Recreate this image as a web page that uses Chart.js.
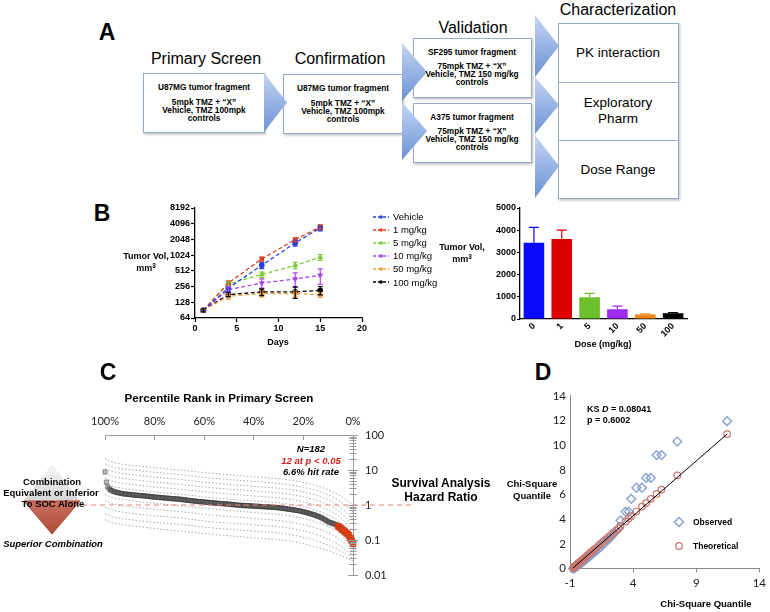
<!DOCTYPE html>
<html>
<head>
<meta charset="utf-8">
<title>Combination screen figure</title>
<script src="https://cdn.jsdelivr.net/npm/chart.js@4.4.1/dist/chart.umd.min.js"></script>
<style>
html, body { margin: 0; padding: 0; background: #fff; }
#fig { position: relative; width: 770px; height: 612px; overflow: hidden; font-family: "Liberation Sans", Arial, sans-serif; color: #000; }
#fig canvas, #fig svg { position: absolute; }
.t, .tl { position: absolute; white-space: nowrap; line-height: 1; }
.t { transform: translate(-50%, -50%); }
.tl { transform: translate(0, -50%); }
.panel { font-weight: bold; font-size: 23px; }
.stage { font-size: 16px; }
.small { font-weight: bold; font-size: 8.3px; }
.step { font-size: 13.5px; }
.axt { font-weight: bold; font-size: 9px; }
.note { font-weight: bold; font-style: italic; font-size: 9.5px; }
.sup { font-size: 6.5px; position: relative; top: -3px; }
#growthLegend { position: absolute; left: 373px; top: 210px; font-size: 9.5px; }
#growthLegend div { height: 13.1px; display: flex; align-items: center; }
#growthLegend svg { position: static; margin-right: 4px; }
</style>
</head>
<body>
<div id="fig">

  <!-- Panel A: screening cascade -->
  <svg width="770" height="205" style="left:0;top:0">
    <defs>
      <linearGradient id="triFill" x1="0" y1="0" x2="0" y2="1">
        <stop offset="0" stop-color="#c6d6f2"/>
        <stop offset="1" stop-color="#6a92d6"/>
      </linearGradient>
      <filter id="boxShadow" x="-10%" y="-10%" width="125%" height="130%">
        <feDropShadow dx="1" dy="1.5" stdDeviation="1" flood-opacity="0.25"/>
      </filter>
    </defs>
    <g fill="#fff" stroke="#94a9cc" stroke-width="1" filter="url(#boxShadow)">
      <rect x="143.5" y="73.5" width="121" height="59"/>
      <rect x="283.5" y="74.5" width="119" height="59"/>
      <rect x="413.5" y="38.5" width="118" height="59"/>
      <rect x="413.5" y="103.5" width="118" height="59"/>
      <rect x="558.5" y="23.5" width="120" height="59"/>
      <rect x="558.5" y="82.5" width="120" height="58"/>
      <rect x="558.5" y="140.5" width="120" height="58"/>
    </g>
    <g fill="url(#triFill)">
      <polygon points="264,73 287,102.5 264,132"/>
      <polygon points="402,43 427,72 402,101"/>
      <polygon points="402,102 427,131 402,160"/>
      <polygon points="535,15 559,46 535,77"/>
      <polygon points="535,77 559,105 535,134"/>
      <polygon points="535,135 559,166 535,198"/>
    </g>
  </svg>

  <div class="t panel" style="left:107px;top:32px">A</div>
  <div class="t stage" style="left:206px;top:59px">Primary Screen</div>
  <div class="t stage" style="left:340px;top:59px">Confirmation</div>
  <div class="t stage" style="left:473px;top:28px">Validation</div>
  <div class="t stage" style="left:618px;top:10px">Characterization</div>

  <div class="t small" style="left:204px;top:87px">U87MG tumor fragment</div>
  <div class="t small" style="left:204px;top:102px">5mpk TMZ + “X”</div>
  <div class="t small" style="left:204px;top:110px">Vehicle, TMZ 100mpk</div>
  <div class="t small" style="left:204px;top:118px">controls</div>

  <div class="t small" style="left:343px;top:88px">U87MG tumor fragment</div>
  <div class="t small" style="left:343px;top:103px">5mpk TMZ + “X”</div>
  <div class="t small" style="left:343px;top:111px">Vehicle, TMZ 100mpk</div>
  <div class="t small" style="left:343px;top:119px">controls</div>

  <div class="t small" style="left:472px;top:52px">SF295 tumor fragment</div>
  <div class="t small" style="left:472px;top:66px">75mpk TMZ + “X”</div>
  <div class="t small" style="left:472px;top:74px">Vehicle, TMZ 150 mg/kg</div>
  <div class="t small" style="left:472px;top:82px">controls</div>

  <div class="t small" style="left:472px;top:117px">A375 tumor fragment</div>
  <div class="t small" style="left:472px;top:131px">75mpk TMZ + “X”</div>
  <div class="t small" style="left:472px;top:139px">Vehicle, TMZ 150 mg/kg</div>
  <div class="t small" style="left:472px;top:147px">controls</div>

  <div class="t step" style="left:618px;top:53px">PK interaction</div>
  <div class="t step" style="left:618px;top:103px">Exploratory</div>
  <div class="t step" style="left:618px;top:119px">Pharm</div>
  <div class="t step" style="left:618px;top:170px">Dose Range</div>

  <!-- Panel B -->
  <canvas id="growthChart" width="260" height="160" style="left:120px;top:198px"></canvas>
  <canvas id="doseChart" width="260" height="160" style="left:440px;top:198px"></canvas>
  <div id="growthLegend"></div>
  <div class="t panel" style="left:102px;top:213px">B</div>
  <div class="t axt" style="left:146px;top:256px">Tumor Vol,</div>
  <div class="t axt" style="left:146px;top:268px">mm<span class="sup">3</span></div>
  <div class="t axt" style="left:462px;top:247px">Tumor Vol,</div>
  <div class="t axt" style="left:462px;top:259px">mm<span class="sup">3</span></div>
  <div class="t axt" style="left:278px;top:342px">Days</div>
  <div class="t axt" style="left:603px;top:344px">Dose (mg/kg)</div>

  <!-- Panel C -->
  <svg width="110" height="80" style="left:0;top:460px">
    <defs>
      <linearGradient id="greyHalf" x1="0" y1="0" x2="0" y2="1">
        <stop offset="0" stop-color="#f7f7f7"/>
        <stop offset="1" stop-color="#d6d6d6"/>
      </linearGradient>
      <linearGradient id="redHalf" x1="0" y1="0" x2="0" y2="1">
        <stop offset="0" stop-color="#c87262"/>
        <stop offset="1" stop-color="#b04a36"/>
      </linearGradient>
    </defs>
    <polygon points="52,6 80,41 24,41" fill="url(#greyHalf)" stroke="#e2e2e2" stroke-width="1"/>
    <polygon points="24,41 80,41 52,74" fill="url(#redHalf)" stroke="#a9452f" stroke-width="1"/>
  </svg>
  <canvas id="rankChart" width="520" height="222" style="left:0;top:380px"></canvas>
  <div class="t panel" style="left:108px;top:372px">C</div>
  <div class="t" style="left:219px;top:398px;font-weight:bold;font-size:11.6px">Percentile Rank in Primary Screen</div>
  <div class="t note" style="left:311px;top:449px">N=182</div>
  <div class="t note" style="left:311px;top:461px;color:#d0201a">12 at p &lt; 0.05</div>
  <div class="t note" style="left:311px;top:472px">6.6% hit rate</div>
  <div class="t" style="left:441px;top:483px;font-weight:bold;font-size:12px">Survival Analysis</div>
  <div class="t" style="left:441px;top:497px;font-weight:bold;font-size:12px">Hazard Ratio</div>
  <div class="t" style="left:52px;top:482px;font-weight:bold;font-size:9.5px">Combination</div>
  <div class="t" style="left:51px;top:493px;font-weight:bold;font-size:9.5px">Equivalent or Inferior</div>
  <div class="t" style="left:53px;top:504px;font-weight:bold;font-size:9.5px">To SOC Alone</div>
  <div class="t note" style="left:53px;top:544px">Superior Combination</div>

  <!-- Panel D -->
  <canvas id="qqChart" width="230" height="215" style="left:540px;top:385px"></canvas>
  <div class="t panel" style="left:543px;top:372px">D</div>
  <div class="tl" style="left:587px;top:409px;font-weight:bold;font-size:9px">KS <i>D</i> = 0.08041</div>
  <div class="tl" style="left:587px;top:420px;font-weight:bold;font-size:9px">p = 0.6002</div>
  <div class="t" style="left:532px;top:484px;font-weight:bold;font-size:9.5px">Chi-Square</div>
  <div class="t" style="left:532px;top:496px;font-weight:bold;font-size:9.5px">Quantile</div>
  <div class="t" style="left:706px;top:604px;font-weight:bold;font-size:9.5px">Chi-Square Quantile</div>
  <svg width="12" height="12" style="left:673px;top:516px"><polygon points="6,1.5 10.5,6 6,10.5 1.5,6" fill="none" stroke="#7f9fd3" stroke-width="1.4"/></svg>
  <svg width="12" height="12" style="left:673px;top:540px"><circle cx="6" cy="6" r="3.3" fill="none" stroke="#c9776f" stroke-width="1.2"/></svg>
  <div class="tl" style="left:693px;top:522px;font-weight:bold;font-size:8.5px">Observed</div>
  <div class="tl" style="left:693px;top:546px;font-weight:bold;font-size:8.5px">Theoretical</div>
</div>

<script>
// ---------- Panel B: tumour volume over time (log2 axis) ----------
const days = [1, 4, 8, 12, 15];
const groupNames = ['Vehicle', '1 mg/kg', '5 mg/kg', '10 mg/kg', '50 mg/kg', '100 mg/kg'];
const volVehicle = [90, 241, 654, 1755, 3400];
const volDose1 = [90, 300, 866, 2035, 3560];
const volDose5 = [90, 288, 434, 654, 933];
const volDose10 = [90, 223, 300, 357, 421];
const volDose50 = [90, 167, 187, 187, 179];
const volDose100 = [90, 180, 202, 202, 217];
const errVehicle = [6, 35, 90, 230, 420];
const errDose1 = [6, 25, 70, 170, 330];
const errDose5 = [6, 25, 50, 90, 120];
const errDose10 = [6, 30, 60, 110, 140];
const errDose50 = [6, 20, 25, 25, 20];
const errDose100 = [6, 15, 30, 50, 40];
const volTicks = [64, 128, 256, 512, 1024, 2048, 4096, 8192];
const dayTicks = [0, 5, 10, 15, 20];

// ---------- Panel B: volume at end of study by dose ----------
const doseLabels = ['0', '1', '5', '10', '50', '100'];
const doseVol = [3430, 3600, 980, 440, 210, 260];
const doseErr = [700, 400, 170, 140, 20, 30];

// ---------- Panel C: ranked hazard ratios ----------
const hazardRatio = [
    8.8, 4.5, 3.3, 2.9, 2.7, 2.55, 2.45, 2.38, 2.32, 2.27,
    2.22, 2.18, 2.14, 2.1, 2.07, 2.05, 2.03, 2.01, 1.99, 1.97,
    1.95, 1.93, 1.92, 1.9, 1.88, 1.87, 1.85, 1.84, 1.83, 1.81,
    1.8, 1.78, 1.76, 1.74, 1.72, 1.7, 1.69, 1.68, 1.66, 1.65,
    1.64, 1.62, 1.61, 1.6, 1.58, 1.57, 1.56, 1.55, 1.53, 1.52,
    1.51, 1.5, 1.49, 1.48, 1.47, 1.46, 1.44, 1.42, 1.4, 1.39,
    1.37, 1.36, 1.34, 1.33, 1.31, 1.3, 1.29, 1.27, 1.26, 1.25,
    1.24, 1.23, 1.22, 1.21, 1.2, 1.19, 1.18, 1.17, 1.16, 1.15,
    1.14, 1.13, 1.12, 1.11, 1.1, 1.1, 1.09, 1.08, 1.08, 1.07,
    1.06, 1.05, 1.04, 1.03, 1.02, 1.01, 1.0, 0.99, 0.98, 0.98,
    0.97, 0.97, 0.96, 0.96, 0.95, 0.95, 0.94, 0.94, 0.93, 0.93,
    0.92, 0.92, 0.91, 0.91, 0.9, 0.9, 0.89, 0.89, 0.88, 0.88,
    0.87, 0.87, 0.86, 0.86, 0.85, 0.85, 0.84, 0.83, 0.82, 0.81,
    0.8, 0.79, 0.78, 0.77, 0.76, 0.75, 0.74, 0.73, 0.72, 0.71,
    0.7, 0.69, 0.68, 0.66, 0.65, 0.64, 0.62, 0.61, 0.59, 0.58,
    0.56, 0.55, 0.53, 0.52, 0.5, 0.48, 0.47, 0.45, 0.43, 0.41,
    0.39, 0.37, 0.35, 0.33, 0.32, 0.31, 0.3, 0.29, 0.28, 0.27,
    0.25, 0.235, 0.22, 0.2, 0.19, 0.175, 0.16, 0.15, 0.135, 0.114, 0.095, 0.077
];
const hitCount = 12;
const rankTickPos = [1, 37.2, 73.4, 109.6, 145.8, 182];
const rankTickLabels = ['100%', '80%', '60%', '40%', '20%', '0%'];
const hrTickLabels = ['0.01', '0.1', '1', '10', '100'];
// confidence streaks around the ranked curve
const bandRanks = [1, 8, 30, 55, 80, 110, 135, 155, 170, 182];
const ciHi6 = [21, 16, 12.5, 10, 8, 6.4, 5.2, 3.6, 2.1, 1.0];
const ciHi5 = [15, 11.8, 9.2, 7.4, 5.8, 4.7, 3.8, 2.6, 1.5, 0.62];
const ciHi4 = [11, 8.7, 6.7, 5.4, 4.2, 3.4, 2.8, 1.9, 1.05, 0.4];
const ciHi3 = [8, 6.3, 4.9, 3.9, 3.1, 2.5, 2.05, 1.36, 0.75, 0.27];
const ciHi2 = [5.8, 4.6, 3.5, 2.85, 2.25, 1.8, 1.48, 0.98, 0.54, 0.18];
const ciHi1 = [4.2, 3.3, 2.5, 2.05, 1.6, 1.3, 1.06, 0.7, 0.38, 0.12];
const ciLo1 = [2.0, 1.57, 1.2, 0.97, 0.76, 0.61, 0.5, 0.33, 0.18, 0.058];
const ciLo2 = [1.32, 1.05, 0.8, 0.65, 0.51, 0.41, 0.33, 0.22, 0.12, 0.045];
const ciLo3 = [0.87, 0.69, 0.52, 0.43, 0.33, 0.27, 0.22, 0.145, 0.08, 0.036];
const ciLo4 = [0.57, 0.45, 0.34, 0.28, 0.22, 0.18, 0.145, 0.095, 0.055, 0.03];
const ciLo5 = [0.38, 0.3, 0.23, 0.18, 0.145, 0.115, 0.095, 0.063, 0.04, 0.025];

// ---------- Panel D: chi-square QQ plot ----------
const qqX = [
    -0.74, -0.72, -0.7, -0.68, -0.66, -0.63, -0.6, -0.57, -0.53, -0.49,
    -0.44, -0.39, -0.33, -0.27, -0.2, -0.12, -0.04, 0.05, 0.15, 0.26,
    0.38, 0.5, 0.63, 0.77, 0.92, 1.08, 1.25, 1.42, 1.6, 1.79,
    1.99, 2.2, 2.42, 2.65, 2.85, 3.0, 3.4, 3.66, 3.85, 4.26,
    4.7, 5.03, 5.4, 5.86, 6.25, 7.5, 11.45
];
const obsY = [
    0.0, 0.01, 0.02, 0.03, 0.05, 0.07, 0.09, 0.11, 0.14, 0.17,
    0.2, 0.24, 0.28, 0.33, 0.38, 0.44, 0.5, 0.57, 0.65, 0.74,
    0.84, 0.94, 1.05, 1.17, 1.3, 1.44, 1.59, 1.75, 1.92, 2.1,
    2.3, 2.52, 2.76, 3.02, 3.25, 3.9, 4.6, 4.6, 5.65, 6.55,
    6.55, 7.35, 7.35, 9.2, 9.2, 10.3, 11.95
];
const theoY = [
    0.06, 0.08, 0.09, 0.11, 0.13, 0.16, 0.18, 0.21, 0.25, 0.28,
    0.33, 0.37, 0.43, 0.48, 0.54, 0.61, 0.68, 0.76, 0.85, 0.95,
    1.06, 1.17, 1.28, 1.41, 1.54, 1.68, 1.84, 1.99, 2.15, 2.32,
    2.5, 2.68, 2.88, 3.09, 3.26, 3.45, 3.82, 4.05, 4.25, 4.62,
    5.02, 5.32, 5.65, 6.05, 6.4, 7.55, 10.9
];
const fitX = [-0.75, 11.45];
const fitY = [0.05, 10.9];
const qqXTicks = [-1, 4, 9, 14];

// ---------- styles ----------
const groupColors = ['#2b3fe0', '#e0401c', '#7acc3a', '#a848e8', '#f0a040', '#000000'];
const groupMarkers = ['circle', 'rect', 'triangle', 'triangle', 'rectRot', 'circle'];
const barColors = ['#0a0aff', '#dd0000', '#6cc02c', '#9b2cf0', '#f08a1c', '#000000'];
const boldTick = { family: '"Liberation Sans", Arial, sans-serif', size: 9, weight: 'bold' };
const calibriLike = { family: 'Lato, "Liberation Sans", sans-serif', size: 11 };

Chart.defaults.font.family = '"Liberation Sans", Arial, sans-serif';
Chart.defaults.animation = false;

document.addEventListener('DOMContentLoaded', function() {
    initGrowthChart();
    initDoseChart();
    initRankChart();
    initQQChart();
});

/**
 * Draws symmetric (or upper-only) error bars through each dataset's y scale
 */
const errorBarPlugin = {
    id: 'errorBars',
    afterDatasetsDraw(chart) {
        const ctx = chart.ctx;
        chart.data.datasets.forEach((ds, i) => {
            if (!ds.errors) return;
            const meta = chart.getDatasetMeta(i);
            const yScale = chart.scales[meta.yAxisID];
            const cap = ds.errorCap || 3;
            ctx.save();
            ctx.lineWidth = 1.2;
            meta.data.forEach((el, j) => {
                const raw = ds.data[j];
                const v = typeof raw === 'object' ? raw.y : raw;
                const e = ds.errors[j];
                const yTop = yScale.getPixelForValue(v + e);
                const yBot = yScale.getPixelForValue(ds.errorUpOnly ? v : v - e);
                ctx.strokeStyle = Array.isArray(ds.borderColor) ? ds.borderColor[j] : ds.borderColor;
                ctx.beginPath();
                ctx.moveTo(el.x, yTop);
                ctx.lineTo(el.x, yBot);
                ctx.moveTo(el.x - cap, yTop);
                ctx.lineTo(el.x + cap, yTop);
                if (!ds.errorUpOnly) {
                    ctx.moveTo(el.x - cap, yBot);
                    ctx.lineTo(el.x + cap, yBot);
                }
                ctx.stroke();
            });
            ctx.restore();
        });
    }
};

/**
 * Tumour growth curves
 */
function initGrowthChart() {
    const ctx = document.getElementById('growthChart');
    const volSeries = [volVehicle, volDose1, volDose5, volDose10, volDose50, volDose100];
    const errSeries = [errVehicle, errDose1, errDose5, errDose10, errDose50, errDose100];

    const chart = new Chart(ctx, {
        type: 'line',
        data: {
            datasets: volSeries.map((vals, i) => ({
                label: groupNames[i],
                data: vals.map((v, j) => ({ x: days[j], y: v })),
                errors: errSeries[i],
                errorCap: 2.5,
                borderColor: groupColors[i],
                backgroundColor: groupColors[i],
                borderWidth: 1.3,
                borderDash: [4, 2.5],
                pointStyle: groupMarkers[i],
                pointRotation: i === 3 ? 180 : 0,
                pointRadius: 2.2,
                tension: 0
            }))
        },
        options: {
            responsive: false,
            layout: { padding: { left: 35, right: 18, top: 10, bottom: 24 } },
            plugins: { legend: { display: false }, tooltip: { enabled: false } },
            scales: {
                x: {
                    type: 'linear', min: 0, max: 20,
                    afterBuildTicks: s => { s.ticks = dayTicks.map(v => ({ value: v })); },
                    afterFit: s => { s.height = 16; },
                    ticks: { font: boldTick, color: '#000', padding: 1, maxRotation: 0 },
                    grid: { drawOnChartArea: false, color: '#000', tickLength: 4, tickWidth: 1.2 },
                    border: { color: '#000', width: 1.3 }
                },
                y: {
                    type: 'logarithmic', min: 64, max: 8192,
                    afterBuildTicks: s => { s.ticks = volTicks.map(v => ({ value: v })); },
                    afterFit: s => { s.width = 40; },
                    ticks: { font: boldTick, color: '#000', padding: 1, callback: v => String(v) },
                    grid: { drawOnChartArea: false, color: '#000', tickLength: 4, tickWidth: 1.2 },
                    border: { color: '#000', width: 1.3 }
                }
            }
        },
        plugins: [errorBarPlugin]
    });

    // html legend built from the chart's own datasets
    const box = document.getElementById('growthLegend');
    chart.data.datasets.forEach(ds => {
        const row = document.createElement('div');
        row.innerHTML = '<svg width="16" height="6"><line x1="0" y1="3" x2="16" y2="3" stroke="' + ds.borderColor +
            '" stroke-width="1.3" stroke-dasharray="3,2"/><circle cx="8" cy="3" r="1.8" fill="' + ds.borderColor + '"/></svg>' +
            '<span>' + ds.label + '</span>';
        box.appendChild(row);
    });
}

/**
 * Final volume by dose
 */
function initDoseChart() {
    const ctx = document.getElementById('doseChart');

    new Chart(ctx, {
        type: 'bar',
        data: {
            labels: doseLabels,
            datasets: [{
                data: doseVol,
                errors: doseErr,
                errorUpOnly: true,
                errorCap: 5,
                backgroundColor: barColors,
                borderColor: barColors,
                borderWidth: 0,
                barPercentage: 0.74,
                categoryPercentage: 1
            }]
        },
        options: {
            responsive: false,
            layout: { padding: { left: 40, right: 13, top: 10, bottom: 17 } },
            plugins: { legend: { display: false }, tooltip: { enabled: false } },
            scales: {
                x: {
                    afterFit: s => { s.height = 22; },
                    ticks: { font: boldTick, color: '#000', minRotation: 45, maxRotation: 45, padding: 2 },
                    grid: { display: false, drawTicks: false },
                    border: { display: true, color: '#000', width: 1.3 }
                },
                y: {
                    min: 0, max: 5000,
                    afterFit: s => { s.width = 40; },
                    ticks: { stepSize: 1000, font: boldTick, color: '#000', padding: 1, callback: v => String(v) },
                    grid: { drawOnChartArea: false, color: '#000', tickLength: 3, tickWidth: 1.2 },
                    border: { color: '#000', width: 1.3 }
                }
            }
        },
        plugins: [errorBarPlugin]
    });
}

/**
 * Ranked hazard ratios with reference line at HR = 1
 */
function initRankChart() {
    const ctx = document.getElementById('rankChart');
    const firstHit = hazardRatio.length - hitCount;
    const bands = [ciHi6, ciHi5, ciHi4, ciHi3, ciHi2, ciHi1, ciLo1, ciLo2, ciLo3, ciLo4, ciLo5];

    const refLine = {
        id: 'refLine',
        afterDraw(chart) {
            const c = chart.ctx;
            const area = chart.chartArea;
            const yScale = chart.scales.y;
            const y = yScale.getPixelForValue(1);
            c.save();
            c.strokeStyle = '#e58472';
            c.lineWidth = 1.2;
            c.setLineDash([5, 4]);
            c.beginPath();
            c.moveTo(area.left - 32, y);
            c.lineTo(area.right + 59, y);
            c.stroke();
            // log tick marks crossing the right axis
            c.setLineDash([]);
            c.strokeStyle = '#9a9a9a';
            c.lineWidth = 1;
            [0.01, 0.1, 1, 10].forEach(dec => {
                for (let m = 1; m <= 9; m++) {
                    const py = Math.round(yScale.getPixelForValue(dec * m)) + 0.5;
                    const len = m === 1 ? 5 : 3.5;
                    c.beginPath();
                    c.moveTo(area.right - len, py);
                    c.lineTo(area.right + len, py);
                    c.stroke();
                }
            });
            const pTop = Math.round(yScale.getPixelForValue(100)) + 0.5;
            c.beginPath();
            c.moveTo(area.right - 5, pTop);
            c.lineTo(area.right + 5, pTop);
            c.stroke();
            c.restore();
        }
    };

    new Chart(ctx, {
        type: 'line',
        data: {
            datasets: [
                {
                    data: hazardRatio.map((v, i) => ({ x: i + 1, y: v })),
                    showLine: false,
                    clip: false,
                    pointStyle: 'rect',
                    pointRadius: c => c.dataIndex >= firstHit ? 4 : 3,
                    pointBackgroundColor: c => c.dataIndex >= firstHit ? '#e0461c' : 'rgba(90,90,90,0.42)',
                    pointBorderColor: c => c.dataIndex >= firstHit ? '#c93a12' : 'rgba(40,40,40,0.5)',
                    pointBorderWidth: 0.8,
                    order: 0
                }
            ].concat(bands.map(b => ({
                data: b.map((v, i) => ({ x: bandRanks[i], y: v })),
                borderColor: 'rgba(95,95,95,0.6)',
                borderWidth: 0.9,
                borderDash: [1.5, 2],
                pointRadius: 0,
                tension: 0.35,
                order: 1
            })))
        },
        options: {
            responsive: false,
            layout: { padding: { left: 105, right: 127, top: 35, bottom: 27 } },
            plugins: { legend: { display: false }, tooltip: { enabled: false } },
            scales: {
                x: {
                    type: 'linear', position: 'top', min: 1, max: 182,
                    afterBuildTicks: s => { s.ticks = rankTickPos.map(v => ({ value: v })); },
                    afterFit: s => { s.height = 20; },
                    ticks: { font: calibriLike, color: '#222', padding: 12, maxRotation: 0, autoSkip: false,
                        callback: (v, i) => rankTickLabels[i] },
                    grid: { drawOnChartArea: false, color: '#9a9a9a', tickLength: -5 },
                    border: { color: '#9a9a9a' }
                },
                y: {
                    type: 'logarithmic', position: 'right', min: 0.01, max: 100,
                    afterBuildTicks: s => { s.ticks = hrTickLabels.map(v => ({ value: Number(v) })); },
                    afterFit: s => { s.width = 40; },
                    ticks: { font: calibriLike, color: '#222', padding: 12,
                        callback: (v, i) => hrTickLabels[i] },
                    grid: { drawOnChartArea: false, drawTicks: false },
                    border: { color: '#9a9a9a' }
                }
            }
        },
        plugins: [refLine]
    });
}

/**
 * Chi-square QQ plot
 */
function initQQChart() {
    const ctx = document.getElementById('qqChart');
    const qqFont = { family: calibriLike.family, size: 11.5 };

    new Chart(ctx, {
        type: 'scatter',
        data: {
            datasets: [
                {
                    type: 'line',
                    data: fitX.map((x, i) => ({ x: x, y: fitY[i] })),
                    borderColor: '#000',
                    borderWidth: 1,
                    pointRadius: 0,
                    order: 0
                },
                {
                    label: 'Theoretical',
                    data: qqX.map((x, i) => ({ x: x, y: theoY[i] })),
                    clip: false,
                    pointStyle: 'circle',
                    pointRadius: 3.3,
                    borderColor: '#c9776f',
                    borderWidth: 1.2,
                    backgroundColor: 'rgba(0,0,0,0)',
                    order: 1
                },
                {
                    label: 'Observed',
                    data: qqX.map((x, i) => ({ x: x, y: obsY[i] })),
                    clip: false,
                    pointStyle: 'rectRot',
                    pointRadius: 4.4,
                    borderColor: '#86a3d4',
                    borderWidth: 1.4,
                    backgroundColor: 'rgba(0,0,0,0)',
                    order: 2
                }
            ]
        },
        options: {
            responsive: false,
            layout: { padding: { left: 4, right: 8, top: 10, bottom: 11.5 } },
            plugins: { legend: { display: false }, tooltip: { enabled: false } },
            scales: {
                x: {
                    type: 'linear', min: -1, max: 14,
                    afterBuildTicks: s => { s.ticks = qqXTicks.map(v => ({ value: v })); },
                    afterFit: s => { s.height = 20; },
                    ticks: { font: qqFont, color: '#222', padding: 4, maxRotation: 0 },
                    grid: { drawOnChartArea: false, color: '#8a8a8a', tickLength: 4 },
                    border: { color: '#8a8a8a' }
                },
                y: {
                    min: 0, max: 14,
                    afterFit: s => { s.width = 26; },
                    ticks: { stepSize: 2, font: qqFont, color: '#222', padding: 4 },
                    grid: { drawOnChartArea: false, drawTicks: false },
                    border: { color: '#8a8a8a' }
                }
            }
        }
    });
}
</script>
</body>
</html>
